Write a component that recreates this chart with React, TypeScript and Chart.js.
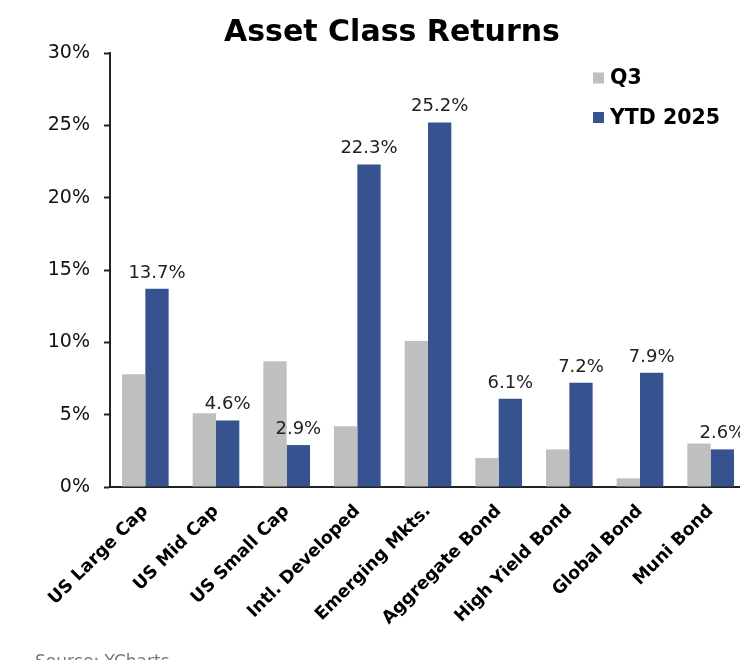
import React, { useEffect, useRef } from "react";
import { Chart, registerables } from "chart.js";

Chart.register(...registerables);

const TITLE = "Asset Class Returns";
const SOURCE = "Source: YCharts";
const categories = [
  "US Large Cap",
  "US Mid Cap",
  "US Small Cap",
  "Intl. Developed",
  "Emerging Mkts.",
  "Aggregate Bond",
  "High Yield Bond",
  "Global Bond",
  "Muni Bond",
];
const seriesNames = ["Q3", "YTD 2025"];
const q3Values = [7.8, 5.1, 8.7, 4.2, 10.1, 2.0, 2.6, 0.6, 3.0];
const ytdValues = [13.7, 4.6, 2.9, 22.3, 25.2, 6.1, 7.2, 7.9, 2.6];
const yMin = 0;
const yMax = 30;
const yStep = 5;

const GRAY = "#BFBFBF";
const BLUE = "#36538F";
const FONT = '"DejaVu Sans", Verdana, sans-serif';

const overlayPlugin = {
  id: "overlay",
  afterDatasetsDraw(chart: any) {
    const ctx = chart.ctx;
    const meta = chart.getDatasetMeta(1);
    ctx.save();
    ctx.font = `18px ${FONT}`;
    ctx.fillStyle = "#222";
    ctx.textAlign = "center";
    ctx.textBaseline = "alphabetic";
    meta.data.forEach((el: any, i: number) => {
      ctx.fillText(ytdValues[i].toFixed(1) + "%", el.x, el.y - 11);
    });
    ctx.restore();
  },
  afterDraw(chart: any) {
    const ctx = chart.ctx;
    ctx.save();
    // title
    ctx.font = `bold 30px ${FONT}`;
    ctx.fillStyle = "#000";
    ctx.textAlign = "center";
    ctx.textBaseline = "alphabetic";
    ctx.fillText(TITLE, 392, 41);
    // legend
    const colors = [GRAY, BLUE];
    const ys = [78, 117.5];
    ctx.font = `bold 20.5px ${FONT}`;
    ctx.textAlign = "left";
    ctx.textBaseline = "middle";
    seriesNames.forEach((name, i) => {
      ctx.fillStyle = colors[i];
      ctx.fillRect(593, ys[i] - 5.5, 11, 11);
      ctx.fillStyle = "#000";
      ctx.fillText(name, 610, ys[i] + 1);
    });
    // source
    ctx.font = `17px ${FONT}`;
    ctx.fillStyle = "#777";
    ctx.textBaseline = "top";
    ctx.fillText(SOURCE, 35, 654);
    ctx.restore();
  },
};

export default function App() {
  const ref = useRef<HTMLCanvasElement | null>(null);
  useEffect(() => {
    const prevMargin = document.body.style.margin;
    document.body.style.margin = "0";
    const canvas = ref.current!;
    const chart = new Chart(canvas, {
      type: "bar",
      data: {
        labels: categories,
        datasets: [
          {
            label: seriesNames[0],
            data: q3Values,
            backgroundColor: GRAY,
            categoryPercentage: 0.66,
            barPercentage: 1.0,
          },
          {
            label: seriesNames[1],
            data: ytdValues,
            backgroundColor: BLUE,
            categoryPercentage: 0.66,
            barPercentage: 1.0,
          },
        ],
      },
      options: {
        responsive: false,
        animation: false,
        layout: { padding: { top: 53, left: 0, right: 0, bottom: 0 } },
        plugins: {
          legend: { display: false },
          title: { display: false },
          tooltip: { enabled: false },
        },
        scales: {
          x: {
            grid: { display: false, drawTicks: false },
            border: { display: true, color: "#222", width: 2 },
            ticks: {
              color: "#000",
              font: { family: FONT, size: 17.5, weight: "bold" },
              maxRotation: 45,
              minRotation: 45,
              padding: 14,
              autoSkip: false,
            },
            afterFit(scale: any) {
              scale.height = 173;
            },
          },
          y: {
            min: yMin,
            max: yMax,
            grid: {
              display: true,
              drawOnChartArea: false,
              drawTicks: true,
              tickLength: 6,
              tickColor: "#222",
              tickWidth: 2,
            },
            border: { display: true, color: "#222", width: 2 },
            ticks: {
              stepSize: yStep,
              color: "#111",
              font: { family: FONT, size: 19 },
              padding: 14,
              callback: (v: any) => v + "%",
            },
            afterFit(scale: any) {
              scale.width = 110;
            },
          },
        },
      },
      plugins: [overlayPlugin],
    });
    return () => {
      chart.destroy();
      document.body.style.margin = prevMargin;
    };
  }, []);
  return (
    <div
      style={{
        position: "fixed",
        left: 0,
        top: 0,
        width: 740,
        height: 660,
        overflow: "hidden",
        background: "#fff",
      }}
    >
      <canvas ref={ref} width={746} height={660} style={{ display: "block" }} />
    </div>
  );
}
